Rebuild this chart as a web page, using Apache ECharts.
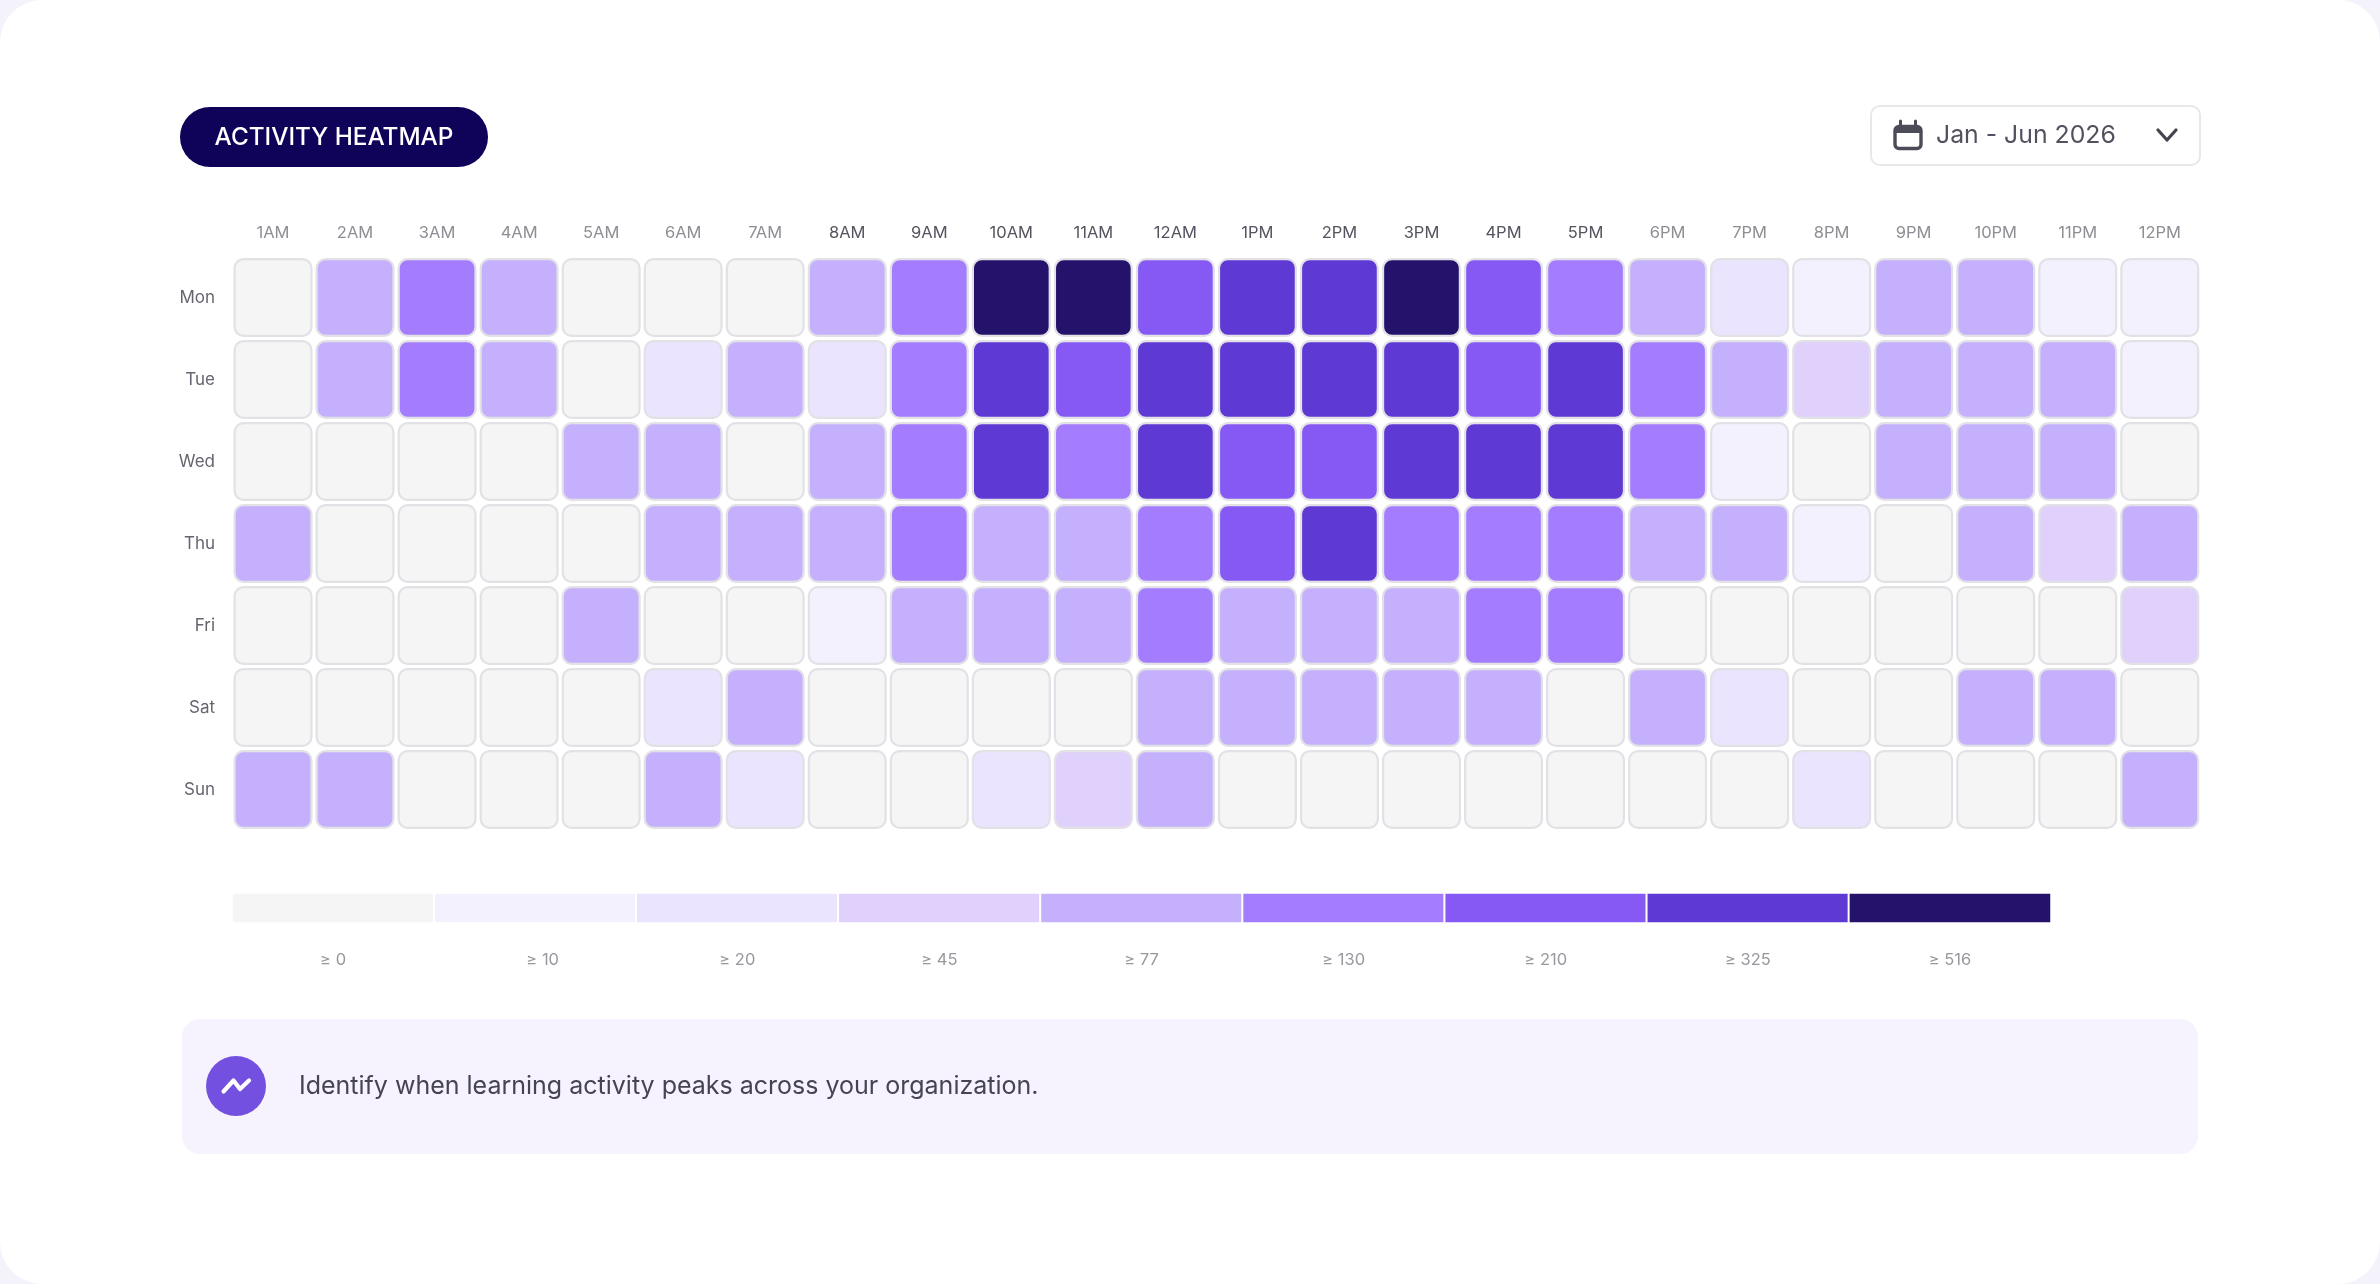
<!DOCTYPE html>
<html>
<head>
<meta charset="utf-8">
<style>
html,body{margin:0;padding:0;background:#F4F3FB;width:2380px;height:1284px;overflow:hidden}
#chart{width:2380px;height:1284px;background:#fff;border-radius:42px;overflow:hidden}
</style>
<script src="https://cdn.jsdelivr.net/npm/echarts@6/dist/echarts.min.js"></script>
</head>
<body>
<div id="chart"></div>
<script>
const hours = ['1AM','2AM','3AM','4AM','5AM','6AM','7AM','8AM','9AM','10AM','11AM','12AM','1PM','2PM','3PM','4PM','5PM','6PM','7PM','8PM','9PM','10PM','11PM','12PM'];
const days = ['Mon','Tue','Wed','Thu','Fri','Sat','Sun'];
const mon = [4,95,160,100,3,5,6,110,170,560,540,250,380,350,530,240,180,105,30,14,100,95,15,12];
const tue = [6,90,165,105,5,28,88,32,175,345,260,370,400,360,340,270,335,150,100,60,90,92,85,13];
const wed = [3,2,4,5,110,95,6,105,150,390,170,420,280,250,410,430,395,140,12,7,95,88,90,5];
const thu = [85,6,3,2,7,92,100,98,190,115,95,160,290,360,175,165,150,110,90,15,6,100,65,95];
const fri = [5,4,2,3,120,6,8,13,100,95,105,180,90,85,110,155,145,4,5,2,3,7,6,62];
const sat = [3,2,5,4,6,30,118,5,7,4,3,100,95,90,105,80,8,115,26,4,6,125,120,5];
const sun = [110,115,4,3,5,125,24,6,8,27,55,90,3,5,2,4,6,7,3,35,8,5,4,112];
const thresholds = [0,10,20,45,77,130,210,325,516];
const palette = ['#F5F5F5','#F4F1FE','#EAE4FE','#E0D0FC','#C4B0FD','#A47DFE','#8659F5','#5F39D3','#25136B'];
const strongHours = ['8AM','9AM','10AM','11AM','12AM','1PM','2PM','3PM','4PM','5PM'];

const rows = [mon,tue,wed,thu,fri,sat,sun];
const cells = [];
rows.forEach((r,y)=>r.forEach((v,x)=>cells.push([x,y,v])));
const font = 'Inter';
const pieces = thresholds.map((t,i)=>({
  gte:t, lt:i<thresholds.length-1?thresholds[i+1]:undefined, color:palette[i]
}));

const chart = echarts.init(document.getElementById('chart'),null,{renderer:'canvas'});
chart.setOption({
  animation:false,
  textStyle:{fontFamily:font},
  grid:[
    {left:232,top:256.5,width:1968.8,height:574,containLabel:false},
    {left:232,top:893,width:1819,height:30,containLabel:false}
  ],
  xAxis:[
    {type:'category',gridIndex:0,position:'top',data:hours.map(h=>({
        value:h,textStyle:{color:strongHours.includes(h)?'#55535F':'#8E8E95'}})),
     axisLine:{show:false},axisTick:{show:false},splitLine:{show:false},
     axisLabel:{interval:0,fontFamily:font,fontSize:16.5,margin:15}},
    {type:'category',gridIndex:1,position:'bottom',data:thresholds.map(t=>({
        value:'≥ '+t,textStyle:t===10?{padding:[0,0,0,15]}:{}})),
     axisLine:{show:false},axisTick:{show:false},splitLine:{show:false},
     axisLabel:{interval:0,fontFamily:font,fontSize:16.5,margin:29,color:'#98989E'}}
  ],
  yAxis:[
    {type:'category',gridIndex:0,inverse:true,data:days,
     axisLine:{show:false},axisTick:{show:false},splitLine:{show:false},
     axisLabel:{interval:0,fontFamily:font,fontSize:17,margin:17,color:'#66646F',padding:[5,0,0,0]}},
    {type:'category',gridIndex:1,data:['levels'],
     axisLine:{show:false},axisTick:{show:false},splitLine:{show:false},axisLabel:{show:false}}
  ],
  visualMap:[{type:'piecewise',show:false,dimension:2,seriesIndex:[0,1],pieces:pieces}],
  series:[
    {type:'custom',name:'Activity',xAxisIndex:0,yAxisIndex:0,
     coordinateSystem:'cartesian2d',
     encode:{x:0,y:1},
     data:cells,
     renderItem:function(params,api){
       const c = api.coord([api.value(0),api.value(1)]);
       const s = api.size([1,1]);
       const w = s[0]-3, h = s[1]-3, bw = 2.2;
       return {type:'rect',
         shape:{x:c[0]-w/2+bw/2,y:c[1]-h/2+bw/2,width:w-bw,height:h-bw,r:9},
         style:{fill:api.visual('color'),stroke:'#E2E1E6',lineWidth:bw}};
     }},
    {type:'heatmap',name:'Scale',xAxisIndex:1,yAxisIndex:1,
     data:thresholds.map((t,i)=>[i,0,t]),
     itemStyle:{borderColor:'#fff',borderWidth:2},
     emphasis:{disabled:true},silent:true}
  ],
  graphic:[
    {type:'rect',shape:{x:180,y:107,width:308,height:60,r:30},style:{fill:'#0F0359'}},
    {type:'text',x:334,y:137.5,style:{text:'ACTIVITY HEATMAP',fill:'#fff',align:'center',verticalAlign:'middle',font:'500 24.3px Inter'}},
    {type:'rect',shape:{x:1871,y:106,width:329,height:59,r:9},style:{fill:'#fff',stroke:'#E8E8EB',lineWidth:2}},
    {type:'rect',shape:{x:1895,y:126.5,width:26,height:22,r:4},style:{fill:'#fff',stroke:'#4C4B58',lineWidth:3.4}},
    {type:'rect',shape:{x:1895,y:126,width:26,height:7,r:[3,3,0,0]},style:{fill:'#4C4B58'}},
    {type:'line',shape:{x1:1900.5,y1:121,x2:1900.5,y2:127},style:{stroke:'#4C4B58',lineWidth:3,lineCap:'round'}},
    {type:'line',shape:{x1:1915.5,y1:121,x2:1915.5,y2:127},style:{stroke:'#4C4B58',lineWidth:3,lineCap:'round'}},
    {type:'text',x:1936,y:136,style:{text:'Jan - Jun 2026',fill:'#53515F',align:'left',verticalAlign:'middle',font:'400 24.8px Inter'}},
    {type:'polyline',shape:{points:[[2158,130],[2167,140],[2176,130]]},style:{fill:'none',stroke:'#44444F',lineWidth:3.2,lineCap:'round',lineJoin:'round'}},
    {type:'rect',shape:{x:182,y:1019,width:2016,height:135,r:18},style:{fill:'#F6F3FE'}},
    {type:'circle',shape:{cx:236,cy:1086,r:30},style:{fill:'#7350DF'}},
    {type:'polyline',shape:{points:[[223.5,1091.5],[233.5,1080.5],[240,1089],[249,1080.5]]},style:{fill:'none',stroke:'#fff',lineWidth:4.2,lineCap:'round',lineJoin:'round'}},
    {type:'text',x:299,y:1086.5,style:{text:'Identify when learning activity peaks across your organization.',fill:'#464452',align:'left',verticalAlign:'middle',font:'400 25px Inter'}}
  ]
});
</script>
</body>
</html>
